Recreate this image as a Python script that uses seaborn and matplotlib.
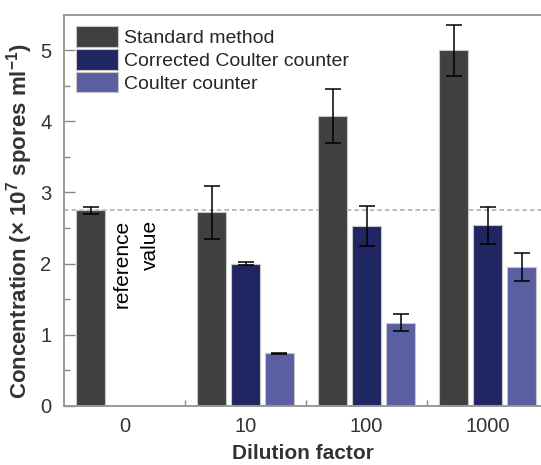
import matplotlib
matplotlib.use("Agg")
import matplotlib.pyplot as plt
import seaborn as sns
import pandas as pd
import numpy as np
from matplotlib.patches import Patch

# ---- data ----
dilutions = ["0", "10", "100", "1000"]
methods = ["Standard method", "Corrected Coulter counter", "Coulter counter"]
standard_vals = [2.75, 2.72, 4.08, 5.00]
standard_err = [0.05, 0.37, 0.38, 0.36]
corrected_vals = [np.nan, 2.00, 2.53, 2.54]
corrected_err = [np.nan, 0.02, 0.28, 0.26]
coulter_vals = [np.nan, 0.735, 1.167, 1.95]
coulter_err = [np.nan, 0.01, 0.12, 0.20]
reference_value = 2.75
y_ticks = [0, 1, 2, 3, 4, 5]

colors = ["#404040", "#202662", "#5a5fa2"]

rows = []
for m, vals, errs in [(methods[0], standard_vals, standard_err),
                      (methods[1], corrected_vals, corrected_err),
                      (methods[2], coulter_vals, coulter_err)]:
    for d, v, e in zip(dilutions, vals, errs):
        if not np.isnan(v):
            rows.append({"dilution": d, "method": m, "value": v, "err": e})
df = pd.DataFrame(rows)

sns.set_theme(style="ticks")
plt.rcParams["font.family"] = ["Liberation Sans", "DejaVu Sans"]
plt.rcParams["mathtext.default"] = "regular"

fig = plt.figure(figsize=(5.41, 4.65), dpi=100)
ax_bottom = (465 - 405.7) / 465
ax_height = (405.7 - 14.7) / 465
ax = fig.add_axes([64 / 541, ax_bottom, 1 - 64 / 541, ax_height])

sns.barplot(data=df, x="dilution", y="value", hue="method", order=dilutions,
            hue_order=methods, palette=colors, errorbar=None, width=0.84,
            gap=0.14, edgecolor="#c8c8c8", linewidth=0.8, ax=ax, legend=False,
            saturation=1)

# error bars placed on the library-drawn bars
for m, cont in zip(methods, ax.containers):
    sub = df[df.method == m]
    for bar in cont:
        h = bar.get_height()
        if np.isnan(h):
            continue
        match = sub.iloc[(sub.value - h).abs().argsort().iloc[0]]
        xc = bar.get_x() + bar.get_width() / 2
        ax.errorbar(xc, h, yerr=match.err, fmt="none", ecolor="black",
                    elinewidth=1.1, capsize=6, capthick=1.1, zorder=5)

ax.axhline(reference_value, color="#aaaaaa", ls=(0, (3, 2)), lw=1.1, zorder=0)
ax.text(0.095, 2.61, "reference\nvalue", rotation=90, ha="center", va="top",
        multialignment="right", fontsize=15, color="black", linespacing=1.6)

ax.set_xlim(-0.5, 3.44)
ax.set_ylim(0, 5.5)
ax.set_yticks(y_ticks)
ax.set_yticks(np.arange(0.5, 5.5, 1.0), minor=True)
ax.set_xticks([0.5, 1.5, 2.5], minor=True)

ax.tick_params(axis="both", which="major", direction="in", length=8,
               width=1, color="#888888", labelsize=14.5, labelcolor="#333333",
               top=True, pad=9)
ax.tick_params(axis="both", which="minor", direction="in", length=4,
               width=1, color="#888888", top=False)
ax.tick_params(axis="x", which="major", length=0, pad=8)

for s in ["left", "bottom", "top"]:
    ax.spines[s].set_color("#999999")
    ax.spines[s].set_linewidth(1.4)
ax.spines["right"].set_visible(False)

ax.set_xlabel("Dilution factor", fontsize=15, fontweight="bold", color="#333333", labelpad=6)
ax.set_ylabel("Concentration (× 10$^{7}$ spores ml$^{-1}$)", fontsize=16,
              fontweight="bold", color="#333333")
ax.yaxis.set_label_coords(-0.06, 0.472)

handles = [Patch(facecolor=c, edgecolor="#c8c8c8", linewidth=0.8) for c in colors]
ax.legend(handles, methods, loc="upper left", bbox_to_anchor=(0.0, 1.0),
          frameon=False, fontsize=14, handlelength=2.2, handleheight=1.24,
          handletextpad=0.3, labelspacing=0.1, borderaxespad=0.2)

fig.savefig("out.png", dpi=100)
